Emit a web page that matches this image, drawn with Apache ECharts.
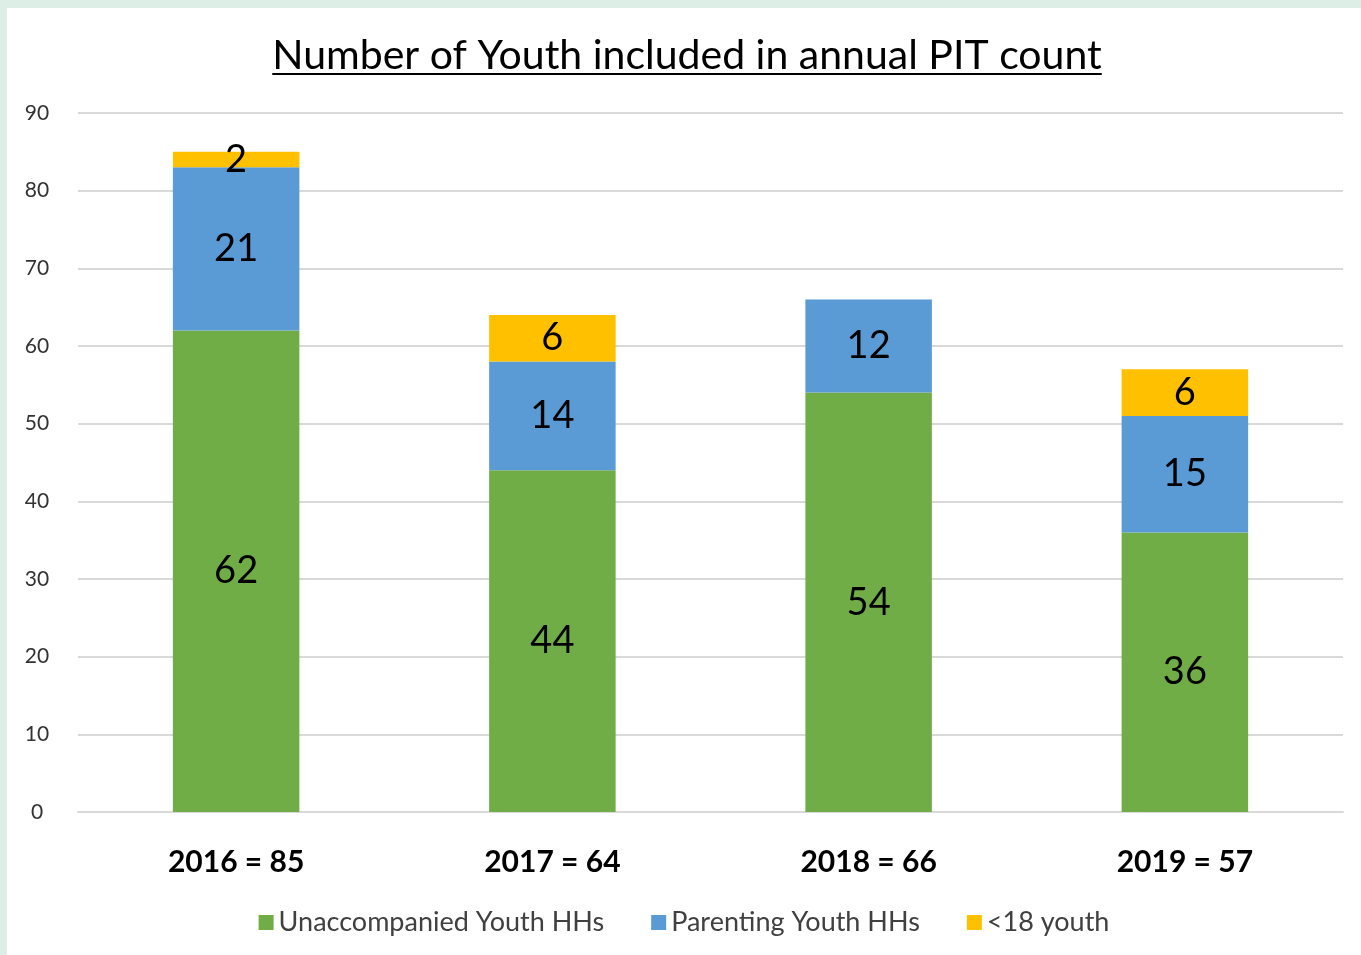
<!DOCTYPE html>
<html>
<head>
<meta charset="utf-8">
<script src="https://cdn.jsdelivr.net/npm/echarts@6/dist/echarts.min.js"></script>
<style>
  html, body { margin: 0; padding: 0; background: #DCEEE6; width: 1361px; height: 955px; overflow: hidden; }
  #chart { position: absolute; left: 7px; top: 8px; width: 1354px; height: 947px; background: #ffffff; }
</style>
</head>
<body>
<div id="chart"></div>
<script>
const titleText = 'Number of Youth included in annual PIT count';
const categories = ['2016 = 85', '2017 = 64', '2018 = 66', '2019 = 57'];
const seriesNames = ['Unaccompanied Youth HHs', 'Parenting Youth HHs', '<18 youth'];
const unaccompanied = [62, 44, 54, 36];
const parenting = [21, 14, 12, 15];
const under18 = [2, 6, null, 6];
const yTicks = { min: 0, max: 90, interval: 10 };

const colors = ['#70AD47', '#5B9BD5', '#FFC000'];
const fontFam = 'Lato, "Open Sans", sans-serif';

// measure title to draw underline
const titleSize = 41;
const cv = document.createElement('canvas').getContext('2d');
cv.font = titleSize + 'px ' + fontFam;
const tw = cv.measureText(titleText).width;
const titleCx = 680, titleCy = 47;

const chart = echarts.init(document.getElementById('chart'), null, { renderer: 'canvas' });

const labelStyle = {
  show: true,
  position: 'inside',
  color: '#000',
  fontSize: 38,
  fontFamily: fontFam
};

const option = {
  animation: false,
  textStyle: { fontFamily: fontFam },
  graphic: [
    {
      type: 'text',
      left: titleCx - tw / 2,
      top: titleCy - titleSize / 2 + 1,
      style: { text: titleText, fontSize: titleSize, fontFamily: fontFam, fill: '#000' }
    },
    {
      type: 'line',
      shape: { x1: titleCx - tw / 2, y1: titleCy + 19, x2: titleCx + tw / 2, y2: titleCy + 19 },
      style: { stroke: '#000', lineWidth: 2 }
    }
  ],
  legend: {
    bottom: 14,
    left: 'center',
    itemWidth: 15,
    itemHeight: 15,
    itemGap: 47,
    icon: 'rect',
    textStyle: { fontSize: 27, color: '#404040', fontFamily: fontFam },
    data: seriesNames
  },
  grid: { left: 71, right: 18, top: 105, bottom: 143, containLabel: false },
  xAxis: {
    type: 'category',
    data: categories,
    axisTick: { show: false },
    axisLine: { show: true, lineStyle: { color: '#D9D9D9', width: 2 } },
    axisLabel: { fontSize: 30, color: '#000', fontWeight: 'bold', margin: 35, fontFamily: fontFam }
  },
  yAxis: {
    type: 'value',
    min: yTicks.min,
    max: yTicks.max,
    interval: yTicks.interval,
    axisLine: { show: false },
    axisTick: { show: false },
    axisLabel: { fontSize: 21, color: '#333', margin: 41, align: 'center', fontFamily: fontFam },
    splitLine: { lineStyle: { color: '#D9D9D9', width: 2 } }
  },
  series: [
    { name: seriesNames[0], type: 'bar', stack: 'total', data: unaccompanied, barWidth: '40%', itemStyle: { color: colors[0] }, label: labelStyle },
    { name: seriesNames[1], type: 'bar', stack: 'total', data: parenting, itemStyle: { color: colors[1] }, label: labelStyle },
    { name: seriesNames[2], type: 'bar', stack: 'total', data: under18, itemStyle: { color: colors[2] }, label: labelStyle }
  ]
};
chart.setOption(option);
</script>
</body>
</html>
